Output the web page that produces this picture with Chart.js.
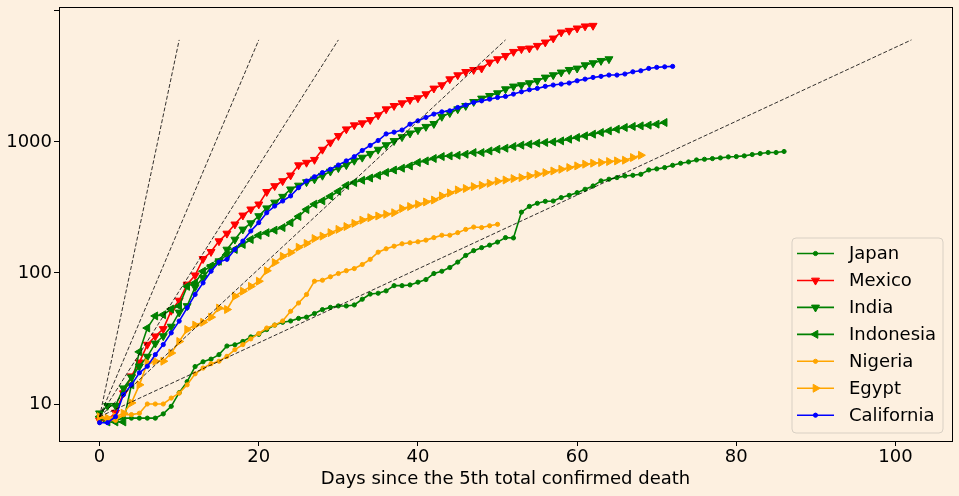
<!DOCTYPE html>
<html>
<head>
<meta charset="utf-8">
<script src="https://cdn.jsdelivr.net/npm/chart.js@4.4.0/dist/chart.umd.min.js"></script>
<style>
  html, body { margin: 0; padding: 0; background: #fdf0e0; }
  #wrap { width: 959px; height: 496px; }
</style>
</head>
<body>
<div id="wrap"><canvas id="myChart" width="959" height="496"></canvas></div>
<script>
// values per day, index = days since the 5th death
const japan = [7.5, 7.5, 7.5, 7.8, 7.8, 7.8, 7.8, 7.8, 8.4, 9.6, 12.2, 14.8, 19.3, 21, 22, 23.8, 27.7, 28.3, 30, 32.5,
  34, 37, 40, 42, 43, 45, 46, 49, 52.5, 54.6, 56, 56, 57, 63, 69, 70, 73, 80, 80, 81,
  85, 89, 99, 103, 110, 121, 136, 148, 156, 163, 172, 186, 185, 291, 322, 340, 352, 354, 376, 391,
  410, 435, 461, 504, 519, 534, 550, 556, 566, 611, 622, 637, 663, 687, 703, 728, 737, 746, 755, 768,
  773, 782, 801, 815, 830, 830, 845]
const mexico = [7.5, 7.5, 8.6, 12.1, 16.3, 20.8, 28.4, 32.9, 37.4, 51.6, 61.6, 81.7, 96, 128, 145, 175, 200, 235, 275, 306,
  334, 416, 461, 503, 556, 665, 695, 731, 874, 990, 1112, 1250, 1342, 1390, 1473, 1600, 1778, 1885, 1976, 2095,
  2158, 2316, 2560, 2713, 3013, 3234, 3427, 3550, 3637, 4045, 4286, 4541, 4875, 5114, 5176, 5420, 5750, 6170, 6860, 7060,
  7360, 7630, 7710]
const india = [8.5, 9.7, 9.7, 13.2, 16, 19.4, 23, 29, 33, 39, 50, 56, 78, 92, 111, 123, 151, 180, 215, 240,
  272, 312, 345, 382, 435, 465, 494, 519, 553, 595, 632, 666, 720, 760, 812, 874, 946, 1018, 1090, 1163,
  1232, 1306, 1374, 1558, 1662, 1778, 1885, 2023, 2147, 2248, 2357, 2529, 2653, 2716, 2813, 2927, 3105, 3236, 3394, 3551,
  3637, 3856, 3996, 4160, 4286]
const indonesia = [8, 7.3, 7.3, 7.3, 14, 25, 38, 47, 48, 53, 56, 79, 84, 103, 113, 123, 138, 151, 165, 180,
  194, 203, 212, 222, 242, 270, 305, 335, 355, 385, 420, 465, 490, 510, 530, 555, 585, 610, 630, 655,
  696, 716, 747, 773, 782, 791, 805, 829, 829, 853, 879, 895, 922, 944, 960, 977, 990, 1000, 1018, 1049,
  1081, 1112, 1146, 1180, 1214, 1250, 1288, 1312, 1325, 1342, 1366, 1406]
const nigeria = [8, 7.5, 7.5, 8.3, 8.3, 8.5, 10, 10, 10, 11.1, 12.1, 14, 17, 18.8, 20.3, 21.2, 23.1, 26, 28.4, 31.4,
  34.5, 38, 40, 43, 51, 59, 68.5, 86.5, 88, 93.5, 99, 104, 108, 116, 127, 144, 153, 160, 167, 170,
  173, 178, 186, 194, 194, 203, 215, 224, 222, 229, 235]
const egypt = [8, 7.8, 8, 8.5, 10.2, 14, 20.6, 21.2, 21.2, 24.5, 30, 37, 40, 42, 46, 54, 52.6, 66.5, 72.6, 79,
  86.5, 104, 120, 134, 143, 157, 168, 183, 191, 203, 215, 226, 239, 253, 264, 272, 280, 288, 310, 321,
  334, 348, 360, 387, 408, 430, 441, 456, 467, 483, 501, 512, 525, 534, 550, 566, 583, 600, 618, 637,
  656, 676, 688, 696, 708, 716, 725, 760, 791]
const california = [7.2, 7.2, 8, 11.8, 14, 17.3, 19.4, 23.8, 28.4, 34.9, 42.9, 54.2, 68.5, 84, 103, 121, 127, 151, 175, 209,
  242, 288, 324, 354, 387, 448, 503, 542, 583, 618, 666, 716, 771, 860, 940, 1025, 1150, 1186, 1232, 1366,
  1448, 1537, 1630, 1695, 1726, 1831, 1909, 2001, 2057, 2120, 2183, 2224, 2316, 2412, 2500, 2560, 2653, 2716, 2763, 2813,
  2927, 3013, 3105, 3164, 3236, 3236, 3296, 3427, 3491, 3637, 3707, 3741, 3768]

// dashed guide lines: all start at refStart on day 0 and end at refEnd
const refStart = 8
const refEnd = 6000
const refEndDays = [10, 20, 30, 51, 102]

const xTicks = [0, 20, 40, 60, 80, 100]
const yTicks = [10, 100, 1000, 10000]
const yTickLabels = {10: '10', 100: '100', 1000: '1000', 10000: ''}

const names = ['Japan', 'Mexico', 'India', 'Indonesia', 'Nigeria', 'Egypt', 'California']
const series = [japan, mexico, india, indonesia, nigeria, egypt, california]
const colors = ['green', 'red', 'green', 'green', 'orange', 'orange', 'blue']
const markers = ['dot', 'down', 'down', 'left', 'dot', 'right', 'dot']

const BG = '#fdf0e0'
const FONT = 'DejaVu Sans'
const TRI = 4.6
const DOT = 2.1

function markerProps(m) {
    if (m === 'dot') return {pointStyle: 'circle', pointRadius: DOT, pointRotation: 0}
    const rot = {down: 180, left: 270, right: 90}[m]
    return {pointStyle: 'triangle', pointRadius: TRI, pointRotation: rot}
}

const datasets = []

series.forEach((vals, i) => {
    const mp = markerProps(markers[i])
    datasets.push({
        label: names[i],
        data: vals.map((v, d) => ({x: d, y: v})),
        borderColor: colors[i],
        backgroundColor: colors[i],
        borderWidth: 1.6,
        pointStyle: mp.pointStyle,
        pointRadius: mp.pointRadius,
        pointRotation: mp.pointRotation,
        pointBorderWidth: 1,
        tension: 0,
        order: 10 - i
    })
})

refEndDays.forEach(end => {
    datasets.push({
        label: 'ref' + end,
        data: [{x: 0, y: refStart}, {x: end, y: refEnd}],
        borderColor: 'rgba(0,0,0,0.8)',
        borderWidth: 1,
        borderDash: [4, 2],
        pointRadius: 0,
        order: 0
    })
})

function drawMarker(ctx, m, x, y, color) {
    ctx.fillStyle = color
    ctx.strokeStyle = color
    ctx.lineWidth = 1
    ctx.beginPath()
    if (m === 'dot') {
        ctx.arc(x, y, DOT, 0, Math.PI * 2)
    } else {
        let rad = {down: 180, left: 270, right: 90}[m] * Math.PI / 180
        ctx.moveTo(x + Math.sin(rad) * TRI, y - Math.cos(rad) * TRI)
        rad += 2 * Math.PI / 3
        ctx.lineTo(x + Math.sin(rad) * TRI, y - Math.cos(rad) * TRI)
        rad += 2 * Math.PI / 3
        ctx.lineTo(x + Math.sin(rad) * TRI, y - Math.cos(rad) * TRI)
        ctx.closePath()
    }
    ctx.fill()
    ctx.stroke()
}

const framePlugin = {
    id: 'frame',
    beforeDraw(chart) {
        const ctx = chart.ctx
        ctx.save()
        ctx.fillStyle = BG
        ctx.fillRect(0, 0, chart.width, chart.height)
        ctx.restore()
    },
    afterDraw(chart) {
        const {ctx, chartArea: a} = chart
        ctx.save()
        ctx.strokeStyle = '#000'
        ctx.lineWidth = 1
        ctx.strokeRect(Math.round(a.left) + 0.5, Math.round(a.top) + 0.5,
            Math.round(a.right - a.left), Math.round(a.bottom - a.top))

        // legend in lower right corner of the axes
        const bx = 792, by = 238, bw = 151, bh = 195
        ctx.globalAlpha = 0.8
        ctx.fillStyle = BG
        ctx.beginPath()
        ctx.roundRect(bx, by, bw, bh, 4)
        ctx.fill()
        ctx.globalAlpha = 1
        ctx.strokeStyle = '#d9d0c4'
        ctx.stroke()
        ctx.font = '18px "' + FONT + '"'
        ctx.textBaseline = 'middle'
        names.forEach((name, i) => {
            const y = 253.5 + i * 26.95
            ctx.strokeStyle = colors[i]
            ctx.lineWidth = 1.6
            ctx.beginPath()
            ctx.moveTo(797, y)
            ctx.lineTo(834, y)
            ctx.stroke()
            drawMarker(ctx, markers[i], 815.5, y, colors[i])
            ctx.fillStyle = '#000'
            ctx.fillText(name, 849, y + 1)
        })
        ctx.restore()
    }
}

const myChart = new Chart(document.getElementById('myChart'), {
    type: 'line',
    data: {datasets: datasets},
    options: {
        responsive: false,
        animation: false,
        devicePixelRatio: 1,
        layout: {padding: {left: 0, right: 7, top: 7, bottom: 0}},
        plugins: {legend: {display: false}, tooltip: {enabled: false}},
        scales: {
            x: {
                type: 'linear',
                min: -5.1,
                max: 107.1,
                border: {display: false},
                grid: {drawOnChartArea: false, drawTicks: true, tickLength: 5, color: '#000'},
                ticks: {color: '#000', padding: 2, font: {family: FONT, size: 18, lineHeight: 1}},
                afterBuildTicks: s => { s.ticks = xTicks.map(v => ({value: v})) },
                afterFit: s => { s.height = 55; s.paddingLeft = 0; s.paddingRight = 0 },
                title: {
                    display: true,
                    text: 'Days since the 5th total confirmed death',
                    color: '#000',
                    font: {family: FONT, size: 18, lineHeight: 1},
                    padding: {top: 0, bottom: 8}
                }
            },
            y: {
                type: 'logarithmic',
                min: 5.22,
                max: 10700,
                border: {display: false},
                grid: {drawOnChartArea: false, drawTicks: true, tickLength: 5, color: '#000'},
                ticks: {
                    color: '#000', padding: 2, font: {family: FONT, size: 18, lineHeight: 1},
                    callback: v => yTickLabels[v] !== undefined ? yTickLabels[v] : ''
                },
                afterBuildTicks: s => { s.ticks = yTicks.map(v => ({value: v})) },
                afterFit: s => { s.width = 59; s.paddingTop = 0; s.paddingBottom = 0 }
            }
        }
    },
    plugins: [framePlugin]
})
</script>
</body>
</html>
